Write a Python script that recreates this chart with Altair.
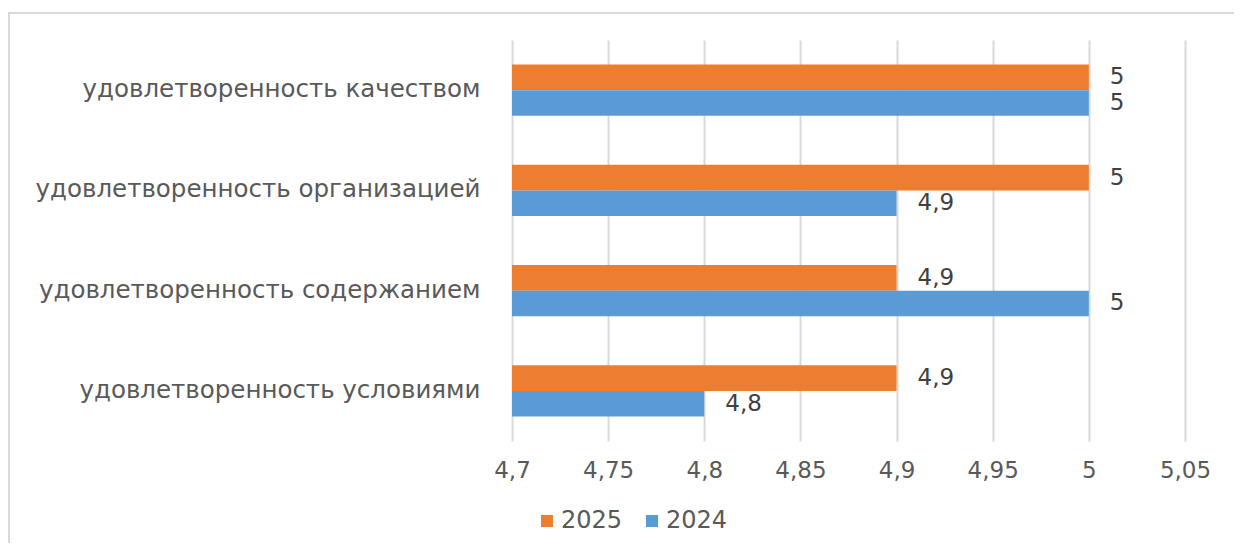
import altair as alt
import pandas as pd

categories = [
    "удовлетворенность качеством",
    "удовлетворенность организацией",
    "удовлетворенность содержанием",
    "удовлетворенность условиями",
]
series_names = ["2025", "2024"]
values_2025 = [5, 5, 4.9, 4.9]
values_2024 = [5, 4.9, 5, 4.8]
x_ticks = [4.7, 4.75, 4.8, 4.85, 4.9, 4.95, 5.0, 5.05]
colors = ["#ED7D31", "#5B9BD5"]

rows = []
for c, v25, v24 in zip(categories, values_2025, values_2024):
    rows.append({"category": c, "year": "2025", "value": v25})
    rows.append({"category": c, "year": "2024", "value": v24})
df = pd.DataFrame(rows)

FONT = "DejaVu Sans"
FS = 23

base = alt.Chart(df).transform_calculate(
    label="replace(format(datum.value, '.2~f'), '.', ',')"
)

y_enc = alt.Y(
    "category:N",
    sort=categories,
    scale=alt.Scale(paddingInner=0.49, paddingOuter=0.245),
    axis=alt.Axis(
        title=None, ticks=False, domain=False, labelPadding=32,
        labelFont=FONT, labelFontSize=24.5, labelColor="#595959", grid=False,
        labelLimit=600,
    ),
)
yoff = alt.YOffset("year:N", sort=series_names)

bars = base.mark_bar(clip=True).encode(
    x=alt.X(
        "value:Q",
        scale=alt.Scale(domain=[4.7, 5.05], zero=False, nice=False),
        axis=alt.Axis(
            title=None, values=x_ticks, format=".2~f",
            labelExpr="replace(datum.label, '.', ',')",
            ticks=False, domain=False, grid=True, gridColor="#d9d9d9",
            gridWidth=2, labelPadding=18, labelFont=FONT, labelFontSize=FS,
            labelColor="#595959", labelFlush=False,
        ),
    ),
    y=y_enc,
    yOffset=yoff,
    color=alt.Color(
        "year:N",
        sort=series_names,
        scale=alt.Scale(domain=series_names, range=colors),
        legend=alt.Legend(
            title=None, orient="none", legendX=23, legendY=469,
            direction="horizontal", symbolType="square", symbolSize=144,
            symbolStrokeWidth=0, labelFont=FONT, labelFontSize=24,
            labelColor="#595959", labelOffset=2, columnPadding=17,
        ),
    ),
)

labels = base.mark_text(
    align="left", baseline="middle", dx=21, font=FONT, fontSize=FS,
    color="#404040",
).encode(
    x=alt.X("value:Q"),
    y=y_enc,
    yOffset=yoff,
    text="label:N",
)

border = alt.Chart(alt.Data(values=[{"a": 1}])).mark_rect(
    fill="transparent", stroke="#d9d9d9", strokeWidth=2
).encode(
    x=alt.value(-503), x2=alt.value(900), y=alt.value(-27), y2=alt.value(700)
)

chart = alt.layer(border, bars, labels).properties(
    width=673,
    height=401,
    autosize=alt.AutoSizeParams(type="none"),
    padding={"left": 504, "top": 32, "right": 49, "bottom": 102},
).configure_view(stroke=None)

chart.save("out.html", embed_options={"renderer": "svg", "actions": False})
